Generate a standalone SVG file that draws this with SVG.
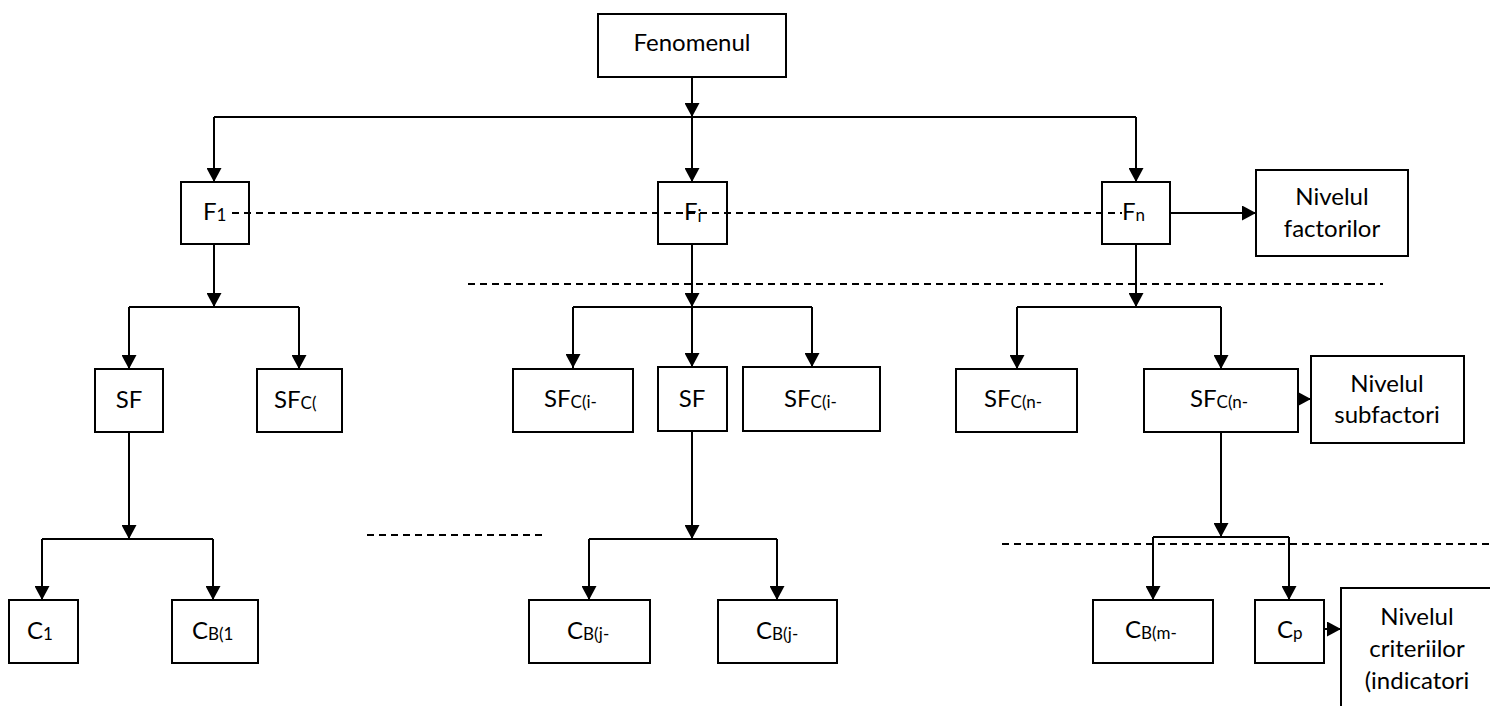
<svg xmlns="http://www.w3.org/2000/svg" width="1490" height="706" viewBox="0 0 1490 706">
<style>
.box{fill:#fff;stroke:#000;stroke-width:2}
.t{font-family:Lato,"Liberation Sans",sans-serif;font-size:24px;fill:#000}
.s{font-size:17px}
.c{text-anchor:middle}
.ln{fill:none;stroke:#000;stroke-width:2}
.ar{fill:none;stroke:#000;stroke-width:2;marker-end:url(#ah)}
.dash{fill:none;stroke:#000;stroke-width:2;stroke-dasharray:7 5}
</style>
<defs>
<marker id="ah" markerUnits="userSpaceOnUse" markerWidth="15" markerHeight="15" refX="14" refY="7.5" orient="auto">
<path d="M0,0 L14,7.5 L0,15 Z" fill="#000"/>
</marker>
</defs>
<rect width="1490" height="706" fill="#fff"/>
<g id="connectors">
<path class="ar" d="M692,77 V117"/>
<path class="ln" d="M214,117 H1136"/>
<path class="ar" d="M214,117 V182"/>
<path class="ar" d="M692,117 V182"/>
<path class="ar" d="M1136,117 V182"/>
<path class="ar" d="M1170,213 H1256"/>
<path class="ar" d="M214,244 V307"/>
<path class="ln" d="M129,307 H299"/>
<path class="ar" d="M129,307 V369"/>
<path class="ar" d="M299,307 V369"/>
<path class="ar" d="M692,244 V307"/>
<path class="ln" d="M573,307 H812"/>
<path class="ar" d="M573,307 V368"/>
<path class="ar" d="M692,307 V367"/>
<path class="ar" d="M812,307 V367"/>
<path class="ar" d="M1136,244 V307"/>
<path class="ln" d="M1017,307 H1221"/>
<path class="ar" d="M1017,307 V369"/>
<path class="ar" d="M1221,307 V369"/>
<path class="ar" d="M1298,399 H1311"/>
<path class="ar" d="M129,432 V539"/>
<path class="ln" d="M42,539 H213"/>
<path class="ar" d="M42,539 V600"/>
<path class="ar" d="M213,539 V600"/>
<path class="ar" d="M692,431 V539"/>
<path class="ln" d="M589,539 H777"/>
<path class="ar" d="M589,539 V600"/>
<path class="ar" d="M777,539 V600"/>
<path class="ar" d="M1221,432 V537"/>
<path class="ln" d="M1153,537 H1289"/>
<path class="ar" d="M1153,537 V600"/>
<path class="ar" d="M1289,537 V600"/>
<path class="ar" d="M1324,629 H1341"/>
</g>
<g id="n-fenomenul"><rect class="box" x="598" y="14" width="188" height="63"/><text class="t c" x="692" y="51">Fenomenul</text></g>
<g id="n-f1"><rect class="box" x="181" y="182" width="68" height="62"/><text class="t" x="203" y="220">F<tspan class="s" dy="1">1</tspan></text></g>
<g id="n-fi"><rect class="box" x="658" y="182" width="69" height="62"/><text class="t" x="684" y="220">F<tspan class="s" dy="2">i</tspan></text></g>
<g id="n-fn"><rect class="box" x="1102" y="182" width="68" height="62"/><text class="t" x="1122" y="220">F<tspan class="s" dy="1">n</tspan></text></g>
<g id="n-nivfact"><rect class="box" x="1256" y="170" width="152" height="86"/><text class="t c" x="1332" y="205">Nivelul</text><text class="t c" x="1332" y="237">factorilor</text></g>
<g id="n-sf1"><rect class="box" x="95" y="369" width="68" height="63"/><text class="t c" x="129" y="408">SF</text></g>
<g id="n-sfc1"><rect class="box" x="257" y="369" width="85" height="63"/><text class="t" x="274" y="408">SF<tspan class="s" dy="1">C(</tspan></text></g>
<g id="n-sfci1"><rect class="box" x="513" y="369" width="120" height="63"/><text class="t" x="544" y="407">SF<tspan class="s" dy="1">C(i-</tspan></text></g>
<g id="n-sfi"><rect class="box" x="658" y="367" width="69" height="64"/><text class="t c" x="692" y="407">SF</text></g>
<g id="n-sfci2"><rect class="box" x="743" y="367" width="137" height="64"/><text class="t" x="784" y="407">SF<tspan class="s" dy="1">C(i-</tspan></text></g>
<g id="n-sfcn1"><rect class="box" x="956" y="369" width="121" height="63"/><text class="t" x="984" y="407">SF<tspan class="s" dy="1">C(n-</tspan></text></g>
<g id="n-sfcn2"><rect class="box" x="1144" y="369" width="154" height="63"/><text class="t" x="1190" y="407">SF<tspan class="s" dy="1">C(n-</tspan></text></g>
<g id="n-nivsub"><rect class="box" x="1311" y="356" width="153" height="87"/><text class="t c" x="1387" y="392">Nivelul</text><text class="t c" x="1387" y="423">subfactori</text></g>
<g id="n-c1"><rect class="box" x="9" y="600" width="69" height="63"/><text class="t" x="27" y="639">C<tspan class="s" dy="1">1</tspan></text></g>
<g id="n-cb1"><rect class="box" x="172" y="600" width="86" height="63"/><text class="t" x="192" y="639">C<tspan class="s" dy="1">B(1</tspan></text></g>
<g id="n-cbj1"><rect class="box" x="529" y="600" width="121" height="63"/><text class="t" x="567" y="639">C<tspan class="s" dy="1">B(j-</tspan></text></g>
<g id="n-cbj2"><rect class="box" x="718" y="600" width="119" height="63"/><text class="t" x="756" y="639">C<tspan class="s" dy="1">B(j-</tspan></text></g>
<g id="n-cbm"><rect class="box" x="1093" y="600" width="120" height="63"/><text class="t" x="1125" y="638">C<tspan class="s" dy="1">B(m-</tspan></text></g>
<g id="n-cp"><rect class="box" x="1255" y="600" width="69" height="63"/><text class="t" x="1277" y="638">C<tspan class="s" dy="1">p</tspan></text></g>
<g id="n-nivcrit"><path class="ln" d="M1341,710 V588 H1492"/><text class="t c" x="1417" y="625">Nivelul</text><text class="t c" x="1417" y="657">criteriilor</text><text class="t c" x="1417" y="689">(indicatori</text></g>
<g id="dashes">
<path class="dash" d="M232,213 H1122"/>
<path class="dash" d="M468,284 H1383"/>
<path class="dash" d="M367,535 H542"/>
<path class="dash" d="M1002,544 H1490"/>
</g>
</svg>
